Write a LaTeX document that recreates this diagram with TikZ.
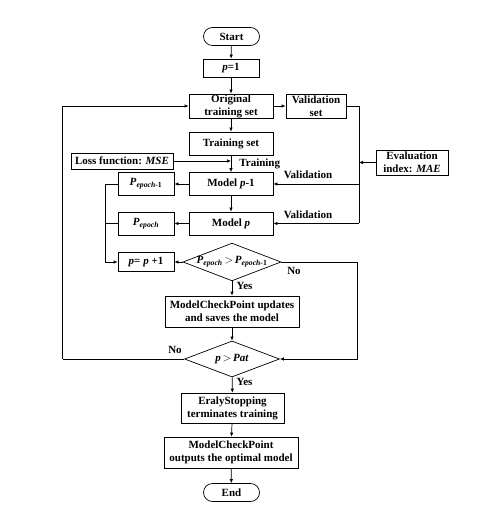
\documentclass[tikz,border=0pt]{standalone}
\usepackage{fontspec}
\setmainfont{Liberation Serif}
\usetikzlibrary{arrows.meta}
\usetikzlibrary{shapes.geometric}

\begin{document}
\begin{tikzpicture}[x=1pt, y=-1pt, line width=0.7pt,
  font=\bfseries\fontsize{11}{13}\selectfont,
  >={Latex[length=4pt,width=3.5pt]},
  box/.style={draw, rectangle, align=center, inner sep=0pt},
  term/.style={draw, rectangle, rounded corners=9pt, minimum width=56pt, minimum height=18pt, inner sep=0pt},
  decision/.style={draw, diamond, aspect=2.6, inner sep=0pt, minimum width=95pt, minimum height=36pt},
  note/.style={inner sep=1pt}]
\useasboundingbox (0,0) rectangle (487,510);

\node[term] at (231.5,36.5) (start) {Start};
\node[box, minimum width=56pt, minimum height=18pt] at (231,68) (pone) {\textit{p}=1};
\node[box, minimum width=84pt, minimum height=24pt] at (231,106) (original) {Original\\training set};
\node[box, minimum width=60pt, minimum height=24pt] at (316,106) (valset) {Validation\\set};
\node[box, minimum width=84pt, minimum height=23pt] at (231,143.5) (trainset) {Training set};
\node[box, minimum width=102pt, minimum height=16pt] at (122,161) (loss) {Loss function: \textit{MSE}};
\node[box, minimum width=72pt, minimum height=25pt] at (412,162.5) (evalidx) {Evaluation\\index: \textit{MAE}};
\node[box, minimum width=84pt, minimum height=23pt] at (231,184) (modelone) {Model \textit{p}-1};
\node[box, minimum width=84pt, minimum height=23pt] at (231,223.5) (model) {Model \textit{p}};
\node[box, minimum width=56pt, minimum height=23pt] at (146,184) (pepochone) {\textit{P}\textsubscript{\textit{epoch}-1}};
\node[box, minimum width=56pt, minimum height=23pt] at (146,223.5) (pepoch) {\textit{P}\textsubscript{\textit{epoch}}};
\node[box, minimum width=56pt, minimum height=19pt] at (146,262) (pnext) {\textit{p}= \textit{p} +1};
\node[decision] at (232,262) (compare) {\textit{P}\textsubscript{\textit{epoch}}\,$>$\,\textit{P}\textsubscript{\textit{epoch}-1}};
\node[box, minimum width=134pt, minimum height=31pt] at (232,311.5) (update) {ModelCheckPoint updates\\and saves the model};
\node[decision] at (232,359) (patience) {\textit{p}\,$>$\,\textit{Pat}};
\node[box, minimum width=103pt, minimum height=30pt] at (232.5,408) (stop) {EralyStopping\\terminates training};
\node[box, minimum width=134pt, minimum height=31pt] at (231,452.5) (output) {ModelCheckPoint\\outputs the optimal model};
\node[term] at (231.5,492.5) (end) {End};

\node[note, anchor=west] at (238,164) (lbltrain) {Training};
\node[note] at (308,174.5) (lblvalone) {Validation};
\node[note] at (308,215) (lblval) {Validation};
\node[note] at (294,271) (lblnoone) {No};
\node[note] at (244.5,286) (lblyesone) {Yes};
\node[note] at (175,350) (lblno) {No};
\node[note] at (244.5,382) (lblyes) {Yes};

\coordinate (valtop) at (359,106);
\coordinate (joinleft) at (105,184);
\coordinate (loopleft) at (62.7,359);
\coordinate (noright) at (357,262);

\draw[->] (start) -- (pone);
\draw[->] (pone) -- (original);
\draw[->] (original) -- (valset);
\draw[->] (original) -- (trainset);
\draw[->] (trainset) -- (modelone);
\draw[->] (loss) -- (loss -| trainset);
\draw (valset.east) -- (valtop) -- (valtop |- model);
\draw[->] (evalidx) -- (evalidx -| valtop);
\draw[->] (valtop |- modelone) -- (modelone);
\draw[->] (valtop |- model) -- (model);
\draw[->] (modelone) -- (model);
\draw[->] (modelone) -- (pepochone);
\draw[->] (model) -- (pepoch);
\draw (pepochone) -- (joinleft);
\draw (pepoch) -- (pepoch -| joinleft);
\draw[->] (joinleft) |- (pnext);
\draw[->] (compare) -- (pnext);
\draw[->] (compare) -- (update);
\draw (compare.east) -- (noright);
\draw[->] (noright) |- (patience.east);
\draw[->] (update) -- (patience);
\draw (patience.west) -- (loopleft);
\draw[->] (loopleft) |- (original.west);
\draw[->] (patience) -- (stop);
\draw[->] (stop) -- (output);
\draw[->] (output) -- (end);

\end{tikzpicture}
\end{document}
